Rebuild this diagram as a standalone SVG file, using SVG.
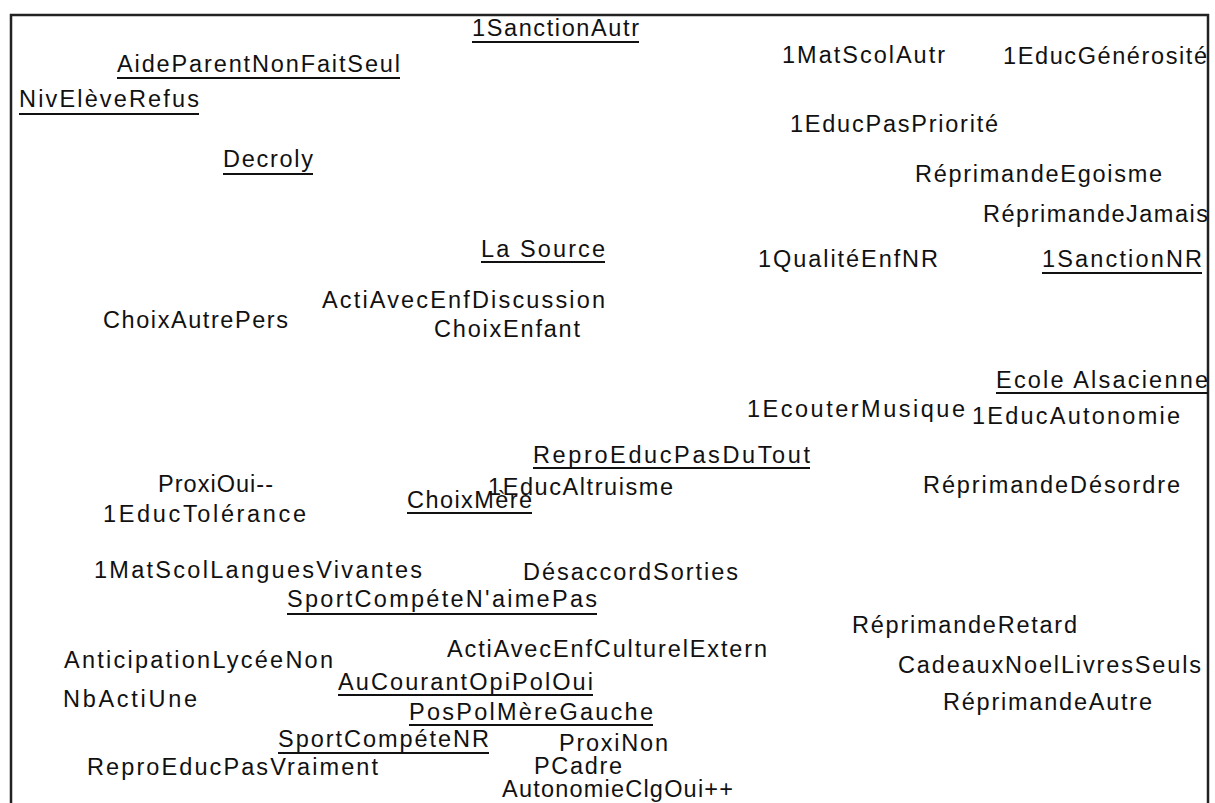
<svg xmlns="http://www.w3.org/2000/svg" width="1215" height="803" viewBox="0 0 1215 803">
<defs>
<style>
text{font-family:"Liberation Sans",Arial,sans-serif;font-size:23.5px;fill:#111}
.ul{stroke:#111;stroke-width:2}
.frame{fill:none;stroke:#222;stroke-width:2.5}
</style>
</defs>
<rect x="0" y="0" width="1215" height="803" fill="#fff"/>
<rect class="frame" x="11" y="15" width="1197" height="820"/>
<g id="connectors"/>
<g id="n-1SanctionAutr"><text x="472" y="36" textLength="167" lengthAdjust="spacing">1SanctionAutr</text><line class="ul" x1="472" y1="42" x2="639" y2="42"/></g>
<g id="n-AideParentNonFaitSeul"><text x="117" y="72" textLength="283" lengthAdjust="spacing">AideParentNonFaitSeul</text><line class="ul" x1="117" y1="78" x2="400" y2="78"/></g>
<g id="n-NivEleveRefus"><text x="19" y="107" textLength="180" lengthAdjust="spacing">NivElèveRefus</text><line class="ul" x1="19" y1="114" x2="199" y2="114"/></g>
<g id="n-Decroly"><text x="223" y="167" textLength="90" lengthAdjust="spacing">Decroly</text><line class="ul" x1="223" y1="174" x2="313" y2="174"/></g>
<g id="n-1MatScolAutr"><text x="782" y="63" textLength="163" lengthAdjust="spacing">1MatScolAutr</text></g>
<g id="n-1EducGenerosite"><text x="1003" y="64" textLength="204" lengthAdjust="spacing">1EducGénérosité</text></g>
<g id="n-1EducPasPriorite"><text x="790" y="132" textLength="208" lengthAdjust="spacing">1EducPasPriorité</text></g>
<g id="n-ReprimandeEgoisme"><text x="915" y="182" textLength="247" lengthAdjust="spacing">RéprimandeEgoisme</text></g>
<g id="n-ReprimandeJamais"><text x="983" y="222" textLength="225" lengthAdjust="spacing">RéprimandeJamais</text></g>
<g id="n-LaSource"><text x="481" y="257" textLength="124" lengthAdjust="spacing">La Source</text><line class="ul" x1="481" y1="262" x2="605" y2="262"/></g>
<g id="n-1QualiteEnfNR"><text x="758" y="267" textLength="180" lengthAdjust="spacing">1QualitéEnfNR</text></g>
<g id="n-1SanctionNR"><text x="1042" y="267" textLength="160" lengthAdjust="spacing">1SanctionNR</text><line class="ul" x1="1042" y1="273" x2="1202" y2="273"/></g>
<g id="n-ActiAvecEnfDiscussion"><text x="322" y="308" textLength="283" lengthAdjust="spacing">ActiAvecEnfDiscussion</text></g>
<g id="n-ChoixAutrePers"><text x="103" y="328" textLength="185" lengthAdjust="spacing">ChoixAutrePers</text></g>
<g id="n-ChoixEnfant"><text x="434" y="337" textLength="146" lengthAdjust="spacing">ChoixEnfant</text></g>
<g id="n-EcoleAlsacienne"><text x="996" y="388" textLength="212" lengthAdjust="spacing">Ecole Alsacienne</text><line class="ul" x1="996" y1="393" x2="1208" y2="393"/></g>
<g id="n-1EcouterMusique"><text x="747" y="417" textLength="218" lengthAdjust="spacing">1EcouterMusique</text></g>
<g id="n-1EducAutonomie"><text x="972" y="424" textLength="208" lengthAdjust="spacing">1EducAutonomie</text></g>
<g id="n-ReproEducPasDuTout"><text x="533" y="463" textLength="277" lengthAdjust="spacing">ReproEducPasDuTout</text><line class="ul" x1="533" y1="468" x2="810" y2="468"/></g>
<g id="n-ProxiOui"><text x="158" y="492" textLength="115" lengthAdjust="spacing">ProxiOui--</text></g>
<g id="n-1EducAltruisme"><text x="488" y="495" textLength="185" lengthAdjust="spacing">1EducAltruisme</text></g>
<g id="n-ReprimandeDesordre"><text x="923" y="493" textLength="257" lengthAdjust="spacing">RéprimandeDésordre</text></g>
<g id="n-1EducTolerance"><text x="103" y="522" textLength="203" lengthAdjust="spacing">1EducTolérance</text></g>
<g id="n-ChoixMere"><text x="407" y="508" textLength="125" lengthAdjust="spacing">ChoixMère</text><line class="ul" x1="407" y1="513" x2="532" y2="513"/></g>
<g id="n-1MatScolLanguesVivantes"><text x="94" y="578" textLength="328" lengthAdjust="spacing">1MatScolLanguesVivantes</text></g>
<g id="n-DesaccordSorties"><text x="523" y="580" textLength="215" lengthAdjust="spacing">DésaccordSorties</text></g>
<g id="n-SportCompeteNaimePas"><text x="287" y="607" textLength="310" lengthAdjust="spacing">SportCompéteN'aimePas</text><line class="ul" x1="287" y1="614" x2="597" y2="614"/></g>
<g id="n-ReprimandeRetard"><text x="852" y="633" textLength="225" lengthAdjust="spacing">RéprimandeRetard</text></g>
<g id="n-ActiAvecEnfCulturelExtern"><text x="447" y="657" textLength="320" lengthAdjust="spacing">ActiAvecEnfCulturelExtern</text></g>
<g id="n-AnticipationLyceeNon"><text x="64" y="668" textLength="269" lengthAdjust="spacing">AnticipationLycéeNon</text></g>
<g id="n-CadeauxNoelLivresSeuls"><text x="898" y="673" textLength="303" lengthAdjust="spacing">CadeauxNoelLivresSeuls</text></g>
<g id="n-AuCourantOpiPolOui"><text x="338" y="690" textLength="255" lengthAdjust="spacing">AuCourantOpiPolOui</text><line class="ul" x1="338" y1="695" x2="593" y2="695"/></g>
<g id="n-NbActiUne"><text x="63" y="707" textLength="134" lengthAdjust="spacing">NbActiUne</text></g>
<g id="n-ReprimandeAutre"><text x="943" y="710" textLength="209" lengthAdjust="spacing">RéprimandeAutre</text></g>
<g id="n-PosPolMereGauche"><text x="409" y="720" textLength="244" lengthAdjust="spacing">PosPolMèreGauche</text><line class="ul" x1="409" y1="725" x2="653" y2="725"/></g>
<g id="n-SportCompeteNR"><text x="278" y="747" textLength="211" lengthAdjust="spacing">SportCompéteNR</text><line class="ul" x1="278" y1="753" x2="489" y2="753"/></g>
<g id="n-ProxiNon"><text x="559" y="751" textLength="109" lengthAdjust="spacing">ProxiNon</text></g>
<g id="n-ReproEducPasVraiment"><text x="87" y="775" textLength="291" lengthAdjust="spacing">ReproEducPasVraiment</text></g>
<g id="n-PCadre"><text x="534" y="774" textLength="88" lengthAdjust="spacing">PCadre</text></g>
<g id="n-AutonomieClgOui"><text x="502" y="797" textLength="231" lengthAdjust="spacing">AutonomieClgOui++</text></g>
</svg>
